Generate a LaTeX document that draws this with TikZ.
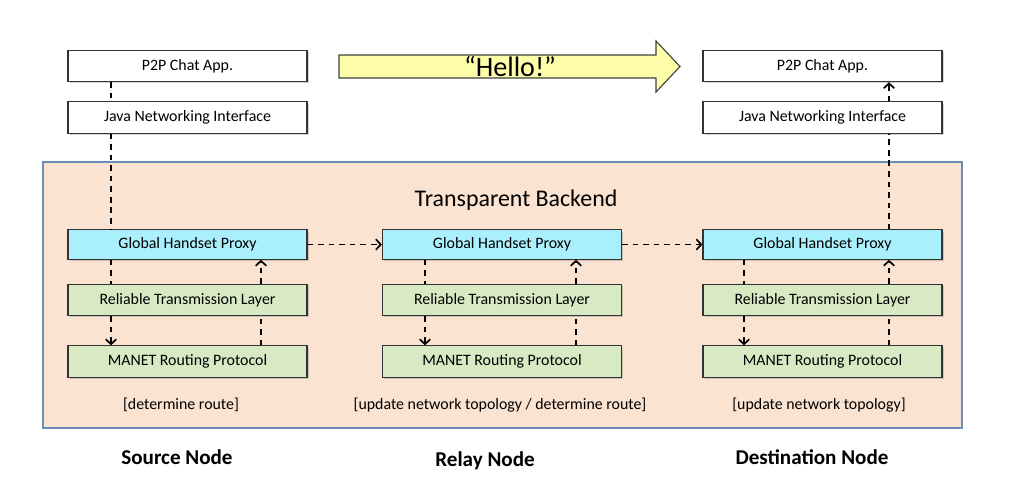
\documentclass[tikz,border=0pt]{standalone}
\usepackage{fontspec}
\setmainfont{Carlito}
\usetikzlibrary{arrows.meta,shadows}
\usepackage{xcolor}
\definecolor{bkFill}{HTML}{FBE3D1}
\definecolor{bkLine}{HTML}{6A8DB8}
\definecolor{pCyan}{HTML}{AAEFFC}
\definecolor{pGreen}{HTML}{D8EAC4}
\definecolor{pYellow}{HTML}{FDFDAA}

\begin{document}
\begin{tikzpicture}[x=0.025cm,y=-0.025cm]
    \pgfmathsetmacro{\bw}{5.975}	%box width (cm)
    \pgfmathsetmacro{\bh}{0.78}	%box height (cm)

    \tikzset{
        layer/.style={draw=black!80, line width=0.8pt, inner sep=0pt,
            minimum width=\bw cm, minimum height=\bh cm,
            font=\fontsize{11.3}{13}\selectfont,
            drop shadow={shadow xshift=1.2pt, shadow yshift=-1.2pt, opacity=0.35}},
        app/.style={layer, fill=white},
        proxy/.style={layer, fill=pCyan, minimum height=0.73cm},
        stack/.style={layer, fill=pGreen},
        flow/.style={line width=1.1pt, dash pattern=on 4pt off 3.5pt},
        flowarrow/.style={flow, -{Straight Barb[length=3.5pt,width=7.5pt,line width=1.2pt]}},
        note/.style={font=\fontsize{11.3}{13}\selectfont},
        title/.style={font=\fontsize{15}{18}\selectfont\bfseries}
    }

    \useasboundingbox (0,0) rectangle (1020,502);

    % backend
    \draw[draw=bkLine, line width=1.2pt, fill=bkFill] (43,162) rectangle (962,428);
    \node[font=\fontsize{17}{20}\selectfont] (backend) at (516,200) {Transparent Backend};

    % message arrow
    \draw[draw=black!75, line width=0.8pt, fill=pYellow]
        (339,55) -- (656,55) -- (656,41) -- (680,66.5) -- (656,92) -- (656,78) -- (339,78) -- cycle;
    \node[font=\fontsize{20}{24}\selectfont] (hello) at (510,66) {“Hello!”};

    % application layers
    \node[app] (appL) at (187.5,66) {P2P Chat App.};
    \node[app] (javaL) at (187.5,117.5) {Java Networking Interface};
    \node[app] (appD) at (822.5,66) {P2P Chat App.};
    \node[app] (javaD) at (822.5,117.5) {Java Networking Interface};

    % backend stacks
    \foreach \c/\x in {L/187.5, R/502, D/822.5}{
        \node[proxy] (ghp\c) at (\x,244.5) {Global Handset Proxy};
        \node[stack] (rtl\c) at (\x,300) {Reliable Transmission Layer};
        \node[stack] (manet\c) at (\x,361.5) {MANET Routing Protocol};
    }

    % flows inside each stack
    \foreach \c/\dn/\up in {L/111/261, R/425/576, D/744/889}{
        \coordinate (dn\c) at (\dn,0);
        \coordinate (up\c) at (\up,0);
        \draw[flow] (ghp\c.south -| dn\c) -- (rtl\c.north -| dn\c);
        \draw[flowarrow] (rtl\c.south -| dn\c) -- (manet\c.north -| dn\c);
        \draw[flow] (manet\c.north -| up\c) -- (rtl\c.south -| up\c);
        \draw[flowarrow] (rtl\c.north -| up\c) -- (ghp\c.south -| up\c);
    }

    % source down to backend
    \draw[flow] (appL.south -| dnL) -- (javaL.north -| dnL);
    \draw[flow] (javaL.south -| dnL) -- (ghpL.north -| dnL);
    % destination up to app
    \draw[flow] (ghpD.north -| upD) -- (javaD.south -| upD);
    \draw[flowarrow] (javaD.north -| upD) -- (appD.south -| upD);

    % proxy to proxy
    \draw[flowarrow] (ghpL.east) -- (ghpR.west);
    \draw[flowarrow] (ghpR.east) -- (ghpD.west);

    % notes
    \node[note] (noteL) at (181,405) {[determine route]};
    \node[note] (noteR) at (500,405) {[update network topology / determine route]};
    \node[note] (noteD) at (819,405) {[update network topology]};

    % node roles
    \node[title] (source) at (177,457) {Source Node};
    \node[title] (relay) at (485,461) {Relay Node};
    \node[title] (dest) at (812,457) {Destination Node};
\end{tikzpicture}
\end{document}
